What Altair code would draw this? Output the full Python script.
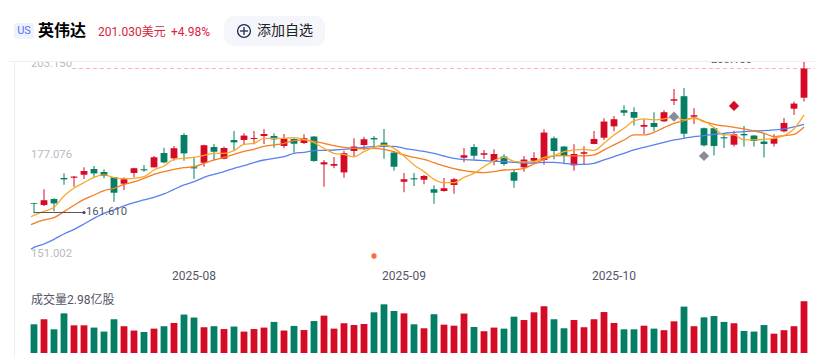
import altair as alt
import pandas as pd

# --- candles: high, body top, body bottom, low, direction
highs = [164.67,168.48,165.91,173.05,172.29,174.77,175.15,174.19,171.91,171.91,174.67,175.43,178.0,180.39,180.86,184.48,177.53,181.24,181.43,180.67,185.15,184.48,185.15,185.62,184.48,184.29,
         183.05,184.19,183.72,176.86,177.72,179.53,183.05,183.53,183.72,185.72,179.05,173.15,173.15,172.58,169.62,171.72,171.72,180.29,181.43,179.72,179.91,178.48,174.0,178.0,179.05,185.62,
         183.54,180.87,181.35,180.77,185.16,188.77,189.44,192.49,191.92,188.49,190.49,191.06,197.16,197.44,191.63,186.11,186.11,184.58,185.25,186.58,184.01,184.39,184.2,188.87,193.54,204.97]
tops = [164.48,165.34,165.72,171.72,172.1,173.72,174.29,173.43,171.91,171.34,174.48,174.19,177.62,178.86,180.19,184.0,174.77,181.05,180.58,180.29,182.58,183.81,183.15,184.29,183.72,183.05,
        182.86,183.05,183.53,176.19,175.72,178.77,180.67,182.77,183.15,181.81,178.96,171.34,171.62,172.29,168.48,168.77,171.34,178.19,180.58,178.77,178.58,177.81,173.34,176.96,177.43,184.67,
        183.06,180.68,178.58,179.06,182.87,187.82,188.49,191.06,190.58,186.87,187.44,190.49,194.2,195.06,189.63,185.92,185.92,183.35,184.2,184.3,183.82,182.11,183.06,187.44,192.96,202.97]
bottoms = [164.29,164.0,164.48,171.34,171.81,172.67,173.05,172.29,167.53,170.1,173.15,173.91,174.77,176.19,177.34,178.77,174.48,176.1,179.24,177.24,181.91,182.58,182.86,183.72,182.77,180.86,
           181.53,181.72,176.58,175.62,175.24,173.34,179.43,181.15,182.77,181.15,174.96,170.67,171.34,171.24,167.53,168.0,169.72,177.53,178.1,178.38,176.48,175.72,170.96,174.77,176.67,176.86,
           179.44,178.01,175.35,178.68,181.44,183.25,186.49,190.39,188.96,186.39,186.3,187.92,193.82,184.39,189.25,181.06,180.87,183.06,181.25,183.92,182.3,181.44,181.54,185.06,191.54,194.68]
lows = [161.61,163.72,162.19,169.81,169.24,171.43,171.81,171.62,164.96,168.29,171.91,173.53,174.77,175.91,176.67,176.67,171.43,174.96,176.67,177.05,179.53,181.43,181.34,181.43,180.39,180.19,
        178.96,181.43,176.38,169.24,174.48,171.81,177.62,179.72,180.48,177.24,173.81,167.62,169.43,169.91,164.38,167.81,167.24,176.19,177.15,177.15,175.34,175.24,168.96,173.53,175.72,175.53,
        177.06,175.92,173.82,175.63,181.35,182.58,185.06,189.44,186.68,184.3,185.06,187.82,192.58,183.06,187.15,180.68,178.11,180.3,180.68,180.68,180.68,177.54,180.68,184.68,189.73,193.54]
direction = list("GRGGRRGGGRRGRGRGGRGRGRRRGR" "GRGRRRRRGGGRGRGRRRGRRGGRRR" "GGRRRRRGGRGRRGRGGGRGGGRRRR")
volumes = [165,194,136,228,159,159,146,123,194,154,129,121,140,154,173,221,204,148,154,138,152,123,138,146,179,
           129,156,132,184,215,140,171,161,167,234,280,242,228,165,142,223,163,157,227,150,125,146,140,209,190,234,269,
           194,142,190,148,194,236,173,136,136,157,140,131,182,267,154,205,213,179,171,127,123,161,111,131,154,298]

# --- moving averages, first value is at the left clip edge
ma_x = [-0.3] + list(range(78))
ma_fast = [160.67,161.05,162.19,163.34,166.58,168.86,170.39,171.91,172.58,171.81,171.53,171.62,172.10,174.0,175.15,177.05,177.34,177.62,178.19,178.77,178.77,179.53,181.34,181.62,183.05,183.05,183.05,
           183.24,182.77,181.81,180.19,178.77,178.39,177.81,179.24,180.48,181.15,180.19,178.0,175.43,173.53,171.34,170.39,170.39,171.91,173.05,174.96,176.67,177.62,176.48,176.29,176.39,177.62,
           178.11,179.25,179.73,179.92,179.63,181.63,184.01,185.92,188.01,188.58,188.30,188.58,189.25,188.30,188.77,188.01,186.11,184.01,184.01,182.58,182.58,182.77,183.06,183.82,185.73,189.73]
ma_mid = [158.38,158.77,159.72,160.38,162.10,163.91,165.62,166.86,168.10,168.77,169.91,170.58,171.62,172.77,173.53,174.19,174.67,174.96,175.91,176.86,177.62,178.48,179.34,179.91,180.77,181.15,181.62,
          182.39,182.58,182.19,181.62,180.96,180.48,180.19,180.10,180.19,179.91,179.24,178.29,177.62,177.05,176.10,175.15,174.39,173.81,173.43,173.24,173.53,174.0,174.10,174.48,175.72,177.05,
          178.01,178.11,178.01,178.01,178.30,179.73,181.16,182.58,184.01,184.01,184.77,186.11,187.35,188.11,188.97,187.82,187.06,186.58,186.20,185.73,185.16,184.49,183.54,183.82,184.20,186.30]
ma_slow = [151.43,151.91,152.86,154.19,155.72,157.05,158.58,160.19,161.62,162.58,163.72,164.67,165.43,166.19,167.15,168.48,169.72,170.67,171.91,172.77,173.53,174.48,175.24,176.10,176.86,177.34,177.81,
           178.77,179.05,179.53,179.62,179.72,179.91,180.19,180.48,180.67,180.77,180.77,180.19,179.72,179.34,178.77,178.0,177.34,176.96,176.86,176.67,176.48,176.39,176.19,176.0,176.0,176.19,
           176.20,175.92,175.63,175.63,175.92,176.87,177.82,178.77,179.73,180.49,181.16,181.92,182.58,183.06,183.54,183.82,184.20,184.49,184.77,184.97,185.16,185.25,185.44,185.73,186.30,187.06]

event_idx = [64, 67, 70]
event_price = [189.25, 178.0, 192.3]
event_color = ["#8b8b99", "#8b8b99", "#d50b25"]
month_idx = [16, 37, 58]
month_lab = ["2025-08", "2025-09", "2025-10"]

FONT = "Roboto, Noto Sans CJK SC, sans-serif"
GREEN, RED = "#047e65", "#d50b25"

df = pd.DataFrame(dict(i=range(78), high=highs, top=tops, bottom=bottoms, low=lows, d=direction, vol=volumes))
ma = pd.DataFrame(dict(i=ma_x, fast=ma_fast, mid=ma_mid, slow=ma_slow))
ev = pd.DataFrame(dict(i=event_idx, p=event_price, c=event_color))
mon = pd.DataFrame(dict(i=month_idx, t=month_lab))

X = alt.X("i:Q", axis=None, scale=alt.Scale(domain=[0, 77], range=[26, 796], padding=0))
yscale = alt.Scale(domain=[140, 220], range=[281, 1])
vscale = alt.Scale(domain=[0, 298], range=[345, 293.3])
colr = alt.Color("d:N", legend=None, scale=alt.Scale(domain=["G", "R"], range=[GREEN, RED]))

def price(f):
    return alt.Y(f, axis=None, scale=yscale)

def px(v):
    return alt.value(v - 8)

wick = alt.Chart(df).mark_rule(strokeWidth=2, opacity=0.5).encode(X, y=price("high:Q"), y2="low:Q", color=colr)
body = alt.Chart(df).mark_bar(size=6, stroke=None).encode(X, y=price("top:Q"), y2="bottom:Q", color=colr)
halo = alt.Chart(df).mark_bar(size=8, opacity=0.4).encode(X, y=price("top:Q"), y2="bottom:Q", color=colr)
vhalo = alt.Chart(df).mark_bar(size=8, opacity=0.4).encode(X, y=alt.Y("vol:Q", axis=None, scale=vscale), color=colr)
vbar = alt.Chart(df).mark_bar(size=6).encode(X, y=alt.Y("vol:Q", axis=None, scale=vscale), color=colr)

def ma_line(field, color):
    return alt.Chart(ma).mark_line(color=color, strokeWidth=1.3, interpolate="monotone").encode(X, y=price(field + ":Q"))

events = alt.Chart(ev).mark_point(shape="diamond", filled=True, size=105, opacity=1).encode(
    X, y=price("p:Q"), color=alt.Color("c:N", scale=None))

def t(txt, x, y, size=12, color="#b9b9c4", align="left", weight="normal"):
    return alt.Chart(pd.DataFrame({"t": [txt]})).mark_text(
        align=align, baseline="middle", fontSize=size, font=FONT, color=color, fontWeight=weight
    ).encode(x=px(x), y=px(y), text="t:N")

def box(x1, x2, y1, y2, color, radius=0):
    return alt.Chart(pd.DataFrame({"a": [0]})).mark_rect(color=color, cornerRadius=radius).encode(
        x=px(x1), x2=px(x2), y=px(y1), y2=px(y2))

def seg(x1, x2, y1, y2, color, w=1, dash=None):
    kw = dict(color=color, strokeWidth=w)
    if dash:
        kw["strokeDash"] = dash
    return alt.Chart(pd.DataFrame({"a": [0]})).mark_rule(**kw).encode(
        x=px(x1), x2=px(x2), y=px(y1), y2=px(y2))

low_dot = alt.Chart(pd.DataFrame({"a": [0]})).mark_point(filled=True, size=10, color="#444455", opacity=1).encode(x=px(84), y=px(212.5))
orange_dot = alt.Chart(pd.DataFrame({"a": [0]})).mark_point(filled=True, size=28, color="#ff6a3d", opacity=1).encode(x=px(374), y=px(256))
plus_ring = alt.Chart(pd.DataFrame({"a": [0]})).mark_point(shape="circle", size=165, color="#1d2a4d", strokeWidth=1.3, opacity=1, filled=False).encode(x=px(244), y=px(31))

months = alt.Chart(mon).mark_text(fontSize=12, font=FONT, color="#555566", align="center", baseline="middle").encode(X, y=px(275.5), text="t:N")

layers = [
    seg(14.5, 14.5, 61, 357, "#eeeeee"),
    seg(72, 823, 68.5, 68.5, "#ffb4b4", 1, [4, 3]),
    t("203.150", 31, 63.5, size=11.3), t("177.076", 31, 155, size=11.3), t("151.002", 31, 254, size=11.3),
    t("203.150", 711, 59.5, size=11.3, color="#555566"),
    halo, wick, body,
    ma_line("slow", "#5b80ee"), ma_line("mid", "#f57d22"), ma_line("fast", "#f9a928"),
    seg(34, 84, 212.5, 212.5, "#555566"), low_dot,
    t("161.610", 86, 212, size=11.3, color="#555566"),
    events, orange_dot, months,
    t("成交量2.98亿股", 31, 300, color="#555566"),
    vhalo, vbar,
    box(8, 823, 8, 61, "#ffffff"),
    seg(8, 823, 61.5, 61.5, "#eeeeee"),
    box(14, 34, 23, 39, "#eef2ff", 3),
    t("US", 24, 31, size=11, color="#5470f0", align="center"),
    t("英伟达", 38, 31, size=16, color="#000000", weight="bold"),
    t("201.030美元", 98, 31.5, size=12, color="#d9223c"),
    t("+4.98%", 171, 31.5, size=12, color="#d9223c"),
    box(224, 325, 16, 46, "#f4f6fb", 10),
    plus_ring,
    seg(240, 248, 31, 31, "#1d2a4d", 1.3), seg(244, 244, 27, 35, "#1d2a4d", 1.3),
    t("添加自选", 257, 31, size=14, color="#222222"),
]

chart = alt.layer(*layers).resolve_scale(y="independent", color="independent").properties(
    width=807, height=349, padding=0, autosize=alt.AutoSizeParams(type="none"), background="#ffffff"
).configure_view(stroke=None)

chart.save("out.html", embed_options={"renderer": "svg", "actions": False})
